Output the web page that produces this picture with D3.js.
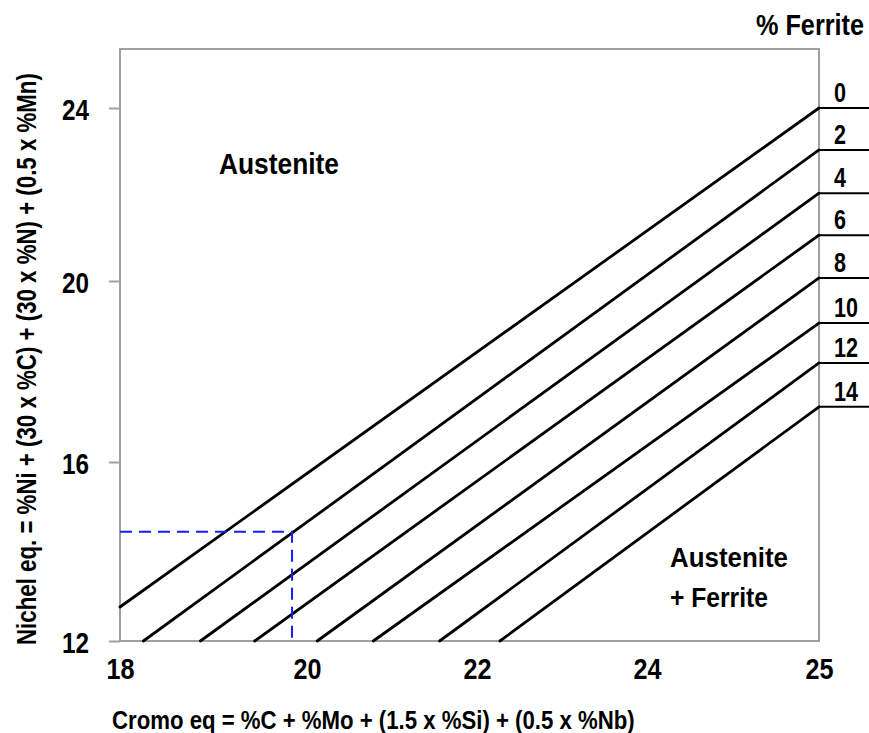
<!DOCTYPE html>
<html>
<head>
<meta charset="utf-8">
<script src="https://cdn.jsdelivr.net/npm/d3@7/dist/d3.min.js"></script>
<style>
  html, body { margin: 0; padding: 0; background: #fff; }
  svg { display: block; }
  text { font-family: "Liberation Sans", Arial, sans-serif; font-weight: bold; fill: #000; }
</style>
</head>
<body>
<svg id="chart" width="869" height="733"></svg>
<script>
// ---- data ----
const ferriteLabels = ["0", "2", "4", "6", "8", "10", "12", "14"];
const startCr = [18, 18.25, 18.86, 19.44, 20.12, 20.78, 21.56, 22.27];
const startNi = [12.76, 12, 12, 12, 12, 12, 12, 12];
const endCr   = [25, 25, 25, 25, 25, 25, 25, 25];
const endNi   = [24, 23.03, 22.03, 21.06, 20.07, 19.07, 18.19, 17.22];
const xTicks = [18, 20, 22, 24, 25];
const yTicks = [12, 16, 20, 24];
const samplePoint = [19.84, 14.44]; // Cr eq, Ni eq
const xTitle = "Cromo eq = %C + %Mo + (1.5 x %Si) + (0.5 x %Nb)";
const yTitle = "Nichel eq. = %Ni + (30 x %C) + (30 x %N) + (0.5 x %Mn)";
const legendTitle = "% Ferrite";
const regionTop = "Austenite";
const regionBottom = ["Austenite", "+ Ferrite"];

// ---- layout ----
const W = 869, H = 733;
const plotLeft = 120, plotRight = 819, plotTop = 49, plotBottom = 641;

const svg = d3.select("#chart");

// narrow the text horizontally to a target width (condensed lettering)
function fit(sel, width, extra) {
  sel.each(function (d) {
    const t = d3.select(this);
    const w = typeof width === "function" ? width(d) : width;
    const n = this.getComputedTextLength();
    const sx = n > 0 ? w / n : 1;
    const x = +t.attr("x") || 0, y = +t.attr("y") || 0;
    t.attr("x", 0).attr("y", 0).attr("dy", null)
     .attr("transform", `${extra || ""} translate(${x},${y}) scale(${sx},1)`);
  });
}

// hand-drawn diagram: tick labels are not evenly spaced, so use piecewise scales
const x = d3.scaleLinear().domain(xTicks).range([120, 307, 477, 647, 819]);
const y = d3.scaleLinear().domain(yTicks).range([641, 462, 281, 108]);

// frame
svg.append("rect")
  .attr("x", plotLeft).attr("y", plotTop)
  .attr("width", plotRight - plotLeft).attr("height", plotBottom - plotTop)
  .attr("fill", "none").attr("stroke", "#a0a0a0").attr("stroke-width", 2);

// y axis
const yAxis = svg.append("g")
  .attr("transform", `translate(${plotLeft},0)`)
  .call(d3.axisLeft(y).tickValues(yTicks).tickSize(11).tickPadding(20).tickFormat(d3.format("d")));
yAxis.select(".domain").remove();
yAxis.selectAll(".tick line").attr("stroke", "#a0a0a0").attr("stroke-width", 2);
yAxis.selectAll(".tick text")
  .attr("font-family", "Liberation Sans, Arial, sans-serif")
  .attr("font-weight", "bold")
  .attr("font-size", 30)
  .attr("fill", "#000")
  .attr("dy", null)
  .attr("y", 11)
  .call(fit, 27);

// x axis
const xAxis = svg.append("g")
  .attr("transform", `translate(0,${plotBottom})`)
  .call(d3.axisBottom(x).tickValues(xTicks).tickSize(0).tickFormat(d3.format("d")));
xAxis.select(".domain").remove();
xAxis.selectAll(".tick text")
  .attr("font-family", "Liberation Sans, Arial, sans-serif")
  .attr("font-weight", "bold")
  .attr("font-size", 30)
  .attr("fill", "#000")
  .attr("dy", null)
  .attr("y", 38)
  .call(fit, 28);

// iso-ferrite lines
const lines = ferriteLabels.map((lab, i) => ({
  lab, x0: startCr[i], y0: startNi[i], x1: endCr[i], y1: endNi[i]
}));

svg.append("g").selectAll("line.iso")
  .data(lines).enter().append("line")
  .attr("class", "iso")
  .attr("x1", d => x(d.x0)).attr("y1", d => y(d.y0))
  .attr("x2", d => x(d.x1)).attr("y2", d => y(d.y1))
  .attr("stroke", "#000").attr("stroke-width", 2.8).attr("stroke-linecap", "round");

// leader lines to the right
svg.append("g").selectAll("line.lead")
  .data(lines).enter().append("line")
  .attr("class", "lead")
  .attr("x1", d => x(d.x1)).attr("y1", d => y(d.y1))
  .attr("x2", W).attr("y2", d => y(d.y1))
  .attr("stroke", "#000").attr("stroke-width", 2);

// ferrite labels
svg.append("g").selectAll("text.flab")
  .data(lines).enter().append("text")
  .attr("class", "flab")
  .attr("x", 834)
  .attr("y", d => y(d.y1) - 6)
  .attr("font-size", 28)
  .text(d => d.lab)
  .call(fit, d => d.lab.length * 12);

// legend title
svg.append("text")
  .attr("x", 756).attr("y", 35)
  .attr("font-size", 29)
  .text(legendTitle)
  .call(fit, 108);

// sample point dashed guides
svg.append("path")
  .attr("d", `M${x(18)},${y(samplePoint[1])}H${x(samplePoint[0])}V${y(12)}`)
  .attr("fill", "none")
  .attr("stroke", "#1a1aff").attr("stroke-width", 2)
  .attr("stroke-dasharray", "12,7");

// region labels
svg.append("text")
  .attr("x", 219).attr("y", 174)
  .attr("font-size", 29)
  .text(regionTop)
  .call(fit, 120);
svg.append("text")
  .attr("x", 670).attr("y", 567)
  .attr("font-size", 27)
  .text(regionBottom[0])
  .call(fit, 118);
svg.append("text")
  .attr("x", 670).attr("y", 607)
  .attr("font-size", 27)
  .text(regionBottom[1])
  .call(fit, 98);

// axis titles
svg.append("text")
  .attr("x", 112).attr("y", 729)
  .attr("font-size", 26)
  .text(xTitle)
  .call(fit, 523);

svg.append("text")
  .attr("x", 0).attr("y", 0)
  .attr("font-size", 28)
  .text(yTitle)
  .call(fit, 572, "translate(36,645) rotate(-90)");
</script>
</body>
</html>
